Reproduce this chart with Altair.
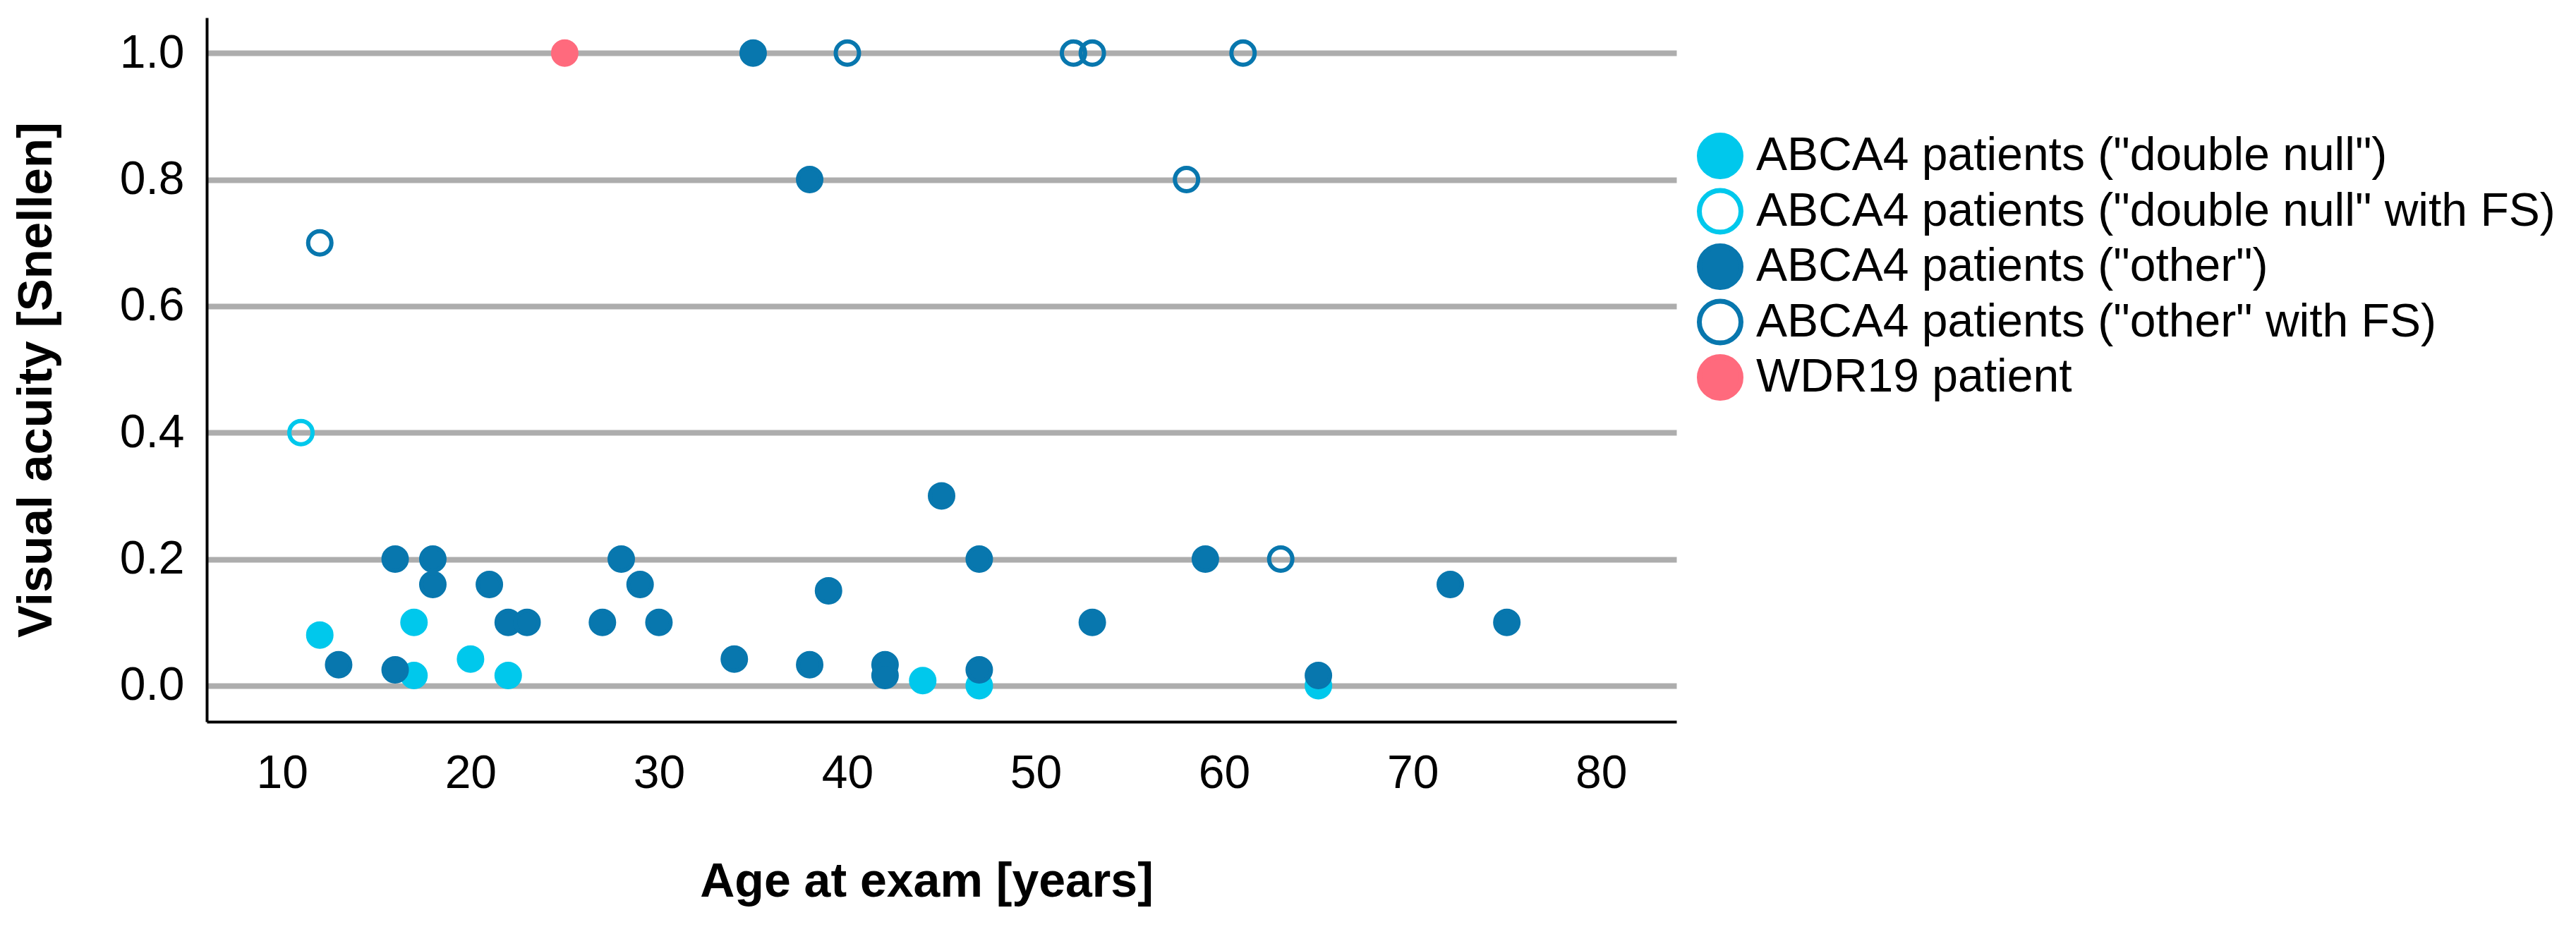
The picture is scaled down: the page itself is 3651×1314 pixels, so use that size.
import altair as alt
import pandas as pd

groups = [
    'ABCA4 patients ("double null")',
    'ABCA4 patients ("double null" with FS)',
    'ABCA4 patients ("other")',
    'ABCA4 patients ("other" with FS)',
    'WDR19 patient',
]
fill_colors = ["#00C8EC", "transparent", "#0877AE", "transparent", "#FF6A7D"]
stroke_colors = ["#00C8EC", "#00C8EC", "#0877AE", "#0877AE", "#FF6A7D"]

# ABCA4 "double null"
dn_age = [12, 17, 17, 20, 22, 44, 47, 65]
dn_va = [0.08, 0.1, 0.016, 0.042, 0.016, 0.008, 0.0, 0.0]
# ABCA4 "double null" with FS
dnfs_age = [11]
dnfs_va = [0.4]
# ABCA4 "other"
oth_age = [35, 38, 16, 18, 18, 21, 22, 23, 27, 28, 29, 30, 13, 16, 34, 38,
           39, 45, 47, 59, 72, 53, 75, 42, 42, 47, 65]
oth_va = [1.0, 0.8, 0.2, 0.2, 0.16, 0.16, 0.1, 0.1, 0.1, 0.2, 0.16, 0.1, 0.033,
          0.025, 0.042, 0.033, 0.15, 0.3, 0.2, 0.2, 0.16, 0.1, 0.1, 0.033,
          0.016, 0.025, 0.016]
# ABCA4 "other" with FS
othfs_age = [12, 40, 52, 53, 61, 58, 63]
othfs_va = [0.7, 1.0, 1.0, 1.0, 1.0, 0.8, 0.2]
# WDR19
wdr_age = [25]
wdr_va = [1.0]

rows = []
for g, ages, vas in [
    (groups[0], dn_age, dn_va),
    (groups[1], dnfs_age, dnfs_va),
    (groups[2], oth_age, oth_va),
    (groups[3], othfs_age, othfs_va),
    (groups[4], wdr_age, wdr_va),
]:
    for a, v in zip(ages, vas):
        rows.append({"age": a, "va": v, "group": g})
df = pd.DataFrame(rows)

x_ticks = [10, 20, 30, 40, 50, 60, 70, 80]
y_ticks = [0.0, 0.2, 0.4, 0.6, 0.8, 1.0]

FONT = "Liberation Sans, Arial, Helvetica, sans-serif"

legend_kw = dict(
    title=None,
    orient="none",
    legendX=2112,
    legendY=163,
    symbolType="circle",
    symbolSize=3481,
    symbolStrokeWidth=7,
    labelFontSize=66,
    labelFont=FONT,
    labelColor="black",
    labelOffset=18,
    rowPadding=-9.5,
    labelLimit=0,
    padding=0,
)

chart = alt.Chart(df).mark_circle(
    size=1089, strokeWidth=6, opacity=1
).encode(
    x=alt.X(
        "age:Q",
        scale=alt.Scale(domain=[6, 84], nice=False, zero=False),
        axis=alt.Axis(
            title="Age at exam [years]",
            values=x_ticks,
            grid=False,
            ticks=False,
            tickSize=0,
            domainColor="black",
            domainWidth=4,
            labelPadding=93,
            labelBaseline="alphabetic",
            labelFontSize=66,
            titleFontSize=68,
            titleFontWeight="bold",
            titleX=1020,
            titleY=247,
            titleBaseline="alphabetic",
            titleAlign="center",
            labelFlush=False,
        ),
    ),
    y=alt.Y(
        "va:Q",
        scale=alt.Scale(domain=[-0.057, 1.056], nice=False, zero=False),
        axis=alt.Axis(
            title="Visual acuity [Snellen]",
            values=y_ticks,
            format=".1f",
            grid=True,
            gridColor="#ADADAD",
            gridWidth=8,
            gridOpacity=1,
            ticks=False,
            tickSize=0,
            domainColor="black",
            domainWidth=4,
            labelPadding=32,
            labelFontSize=66,
            titleFontSize=69,
            titleFontWeight="bold",
            titleAngle=270,
            titleX=-221,
            titleY=513,
            titleBaseline="alphabetic",
            titleAlign="center",
            labelFlush=False,
        ),
    ),
    fill=alt.Fill(
        "group:N",
        scale=alt.Scale(domain=groups, range=fill_colors),
        legend=alt.Legend(**legend_kw),
    ),
    stroke=alt.Stroke(
        "group:N",
        scale=alt.Scale(domain=groups, range=stroke_colors),
        legend=alt.Legend(**legend_kw),
    ),
).properties(
    width=2083,
    height=998,
    background="white",
    autosize=alt.AutoSizeParams(type="none"),
    padding={"left": 285, "top": 17, "right": 1260, "bottom": 280},
).configure_view(
    stroke=None
).configure_axis(
    labelFont=FONT,
    titleFont=FONT,
    labelColor="black",
    titleColor="black",
)

chart.save("out.html", embed_options={"renderer": "svg", "actions": False})
